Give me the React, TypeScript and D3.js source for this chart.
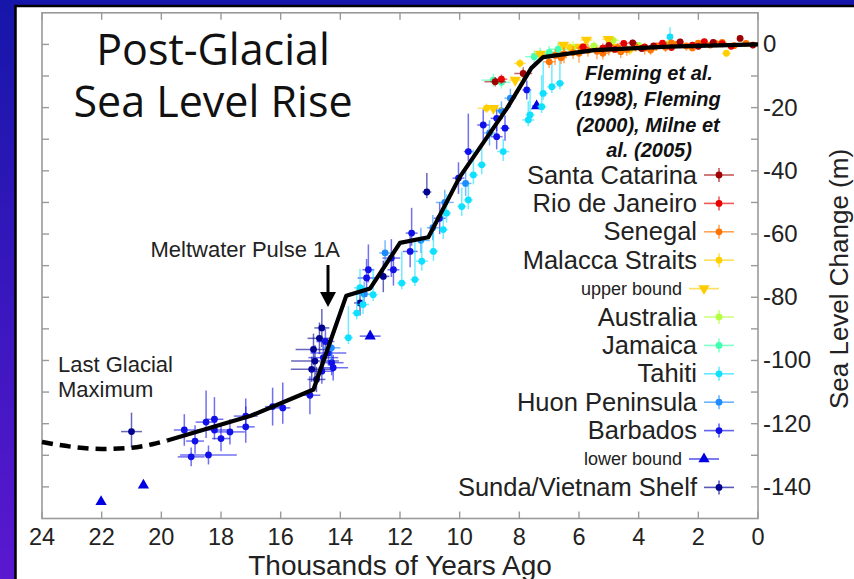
import React from "react";
import * as d3 from "d3";

// [age (kyr), sea level (m), x error (kyr), y error up (m), y error down (m)]
type Pt = number[];

const santaCatarina: Pt[] = [
  [8.81, -11.8, 0.36, 1.5, 1.5], [7.87, -9.2, 0.3, 2, 2], [5.0, -0.3, 0.15, 1, 1],
  [4.2, 0.5, 0.15, 1, 1], [3.5, -0.5, 0.15, 1, 1], [2.61, 0.8, 0.12, 1, 1],
  [1.5, 0.6, 0.12, 1, 1], [0.6, 1.9, 0.1, 1, 1], [0.17, -0.2, 0.1, 1, 1],
  [2.0, -0.6, 0.12, 1, 1], [3.9, -1.3, 0.15, 1, 1],
];
const rioDeJaneiro: Pt[] = [
  [5.86, -0.8, 0.15, 1, 1], [5.2, -1.2, 0.15, 1.5, 1.5], [4.5, 0.3, 0.15, 1, 1],
  [3.8, -0.8, 0.15, 1, 1], [3.2, 0.4, 0.15, 1, 1], [2.2, -0.2, 0.15, 1, 1],
  [1.8, 0.9, 0.12, 1, 1], [1.2, 0.2, 0.12, 1, 1], [0.9, -0.6, 0.12, 1, 1],
  [2.9, -1.0, 0.15, 1, 1], [4.8, -1.6, 0.15, 1, 1], [8.6, -11.0, 0.2, 1.5, 1.5],
];
const senegal: Pt[] = [
  [7.0, -5.5, 0.2, 2, 2], [6.8, -3.5, 0.2, 2, 3], [6.5, -3.0, 0.2, 2, 3],
  [6.2, -2.6, 0.2, 2, 2], [6.0, -2.8, 0.2, 1.5, 3], [5.7, -1.9, 0.2, 2, 2],
  [5.4, -2.2, 0.2, 1.5, 2.5], [5.0, -1.5, 0.2, 1.5, 2], [4.7, -1.0, 0.2, 1.5, 1.5],
  [4.4, -1.6, 0.2, 1.5, 2], [4.1, -0.8, 0.2, 1, 1.5], [3.8, -1.2, 0.2, 1, 2],
  [3.4, -0.5, 0.2, 1, 1.5], [3.1, -0.9, 0.2, 1, 1.5], [2.7, 0.1, 0.2, 1, 1],
  [2.4, -0.5, 0.2, 1, 1.5], [2.0, 0.4, 0.2, 1, 1], [1.6, -0.2, 0.2, 1, 1],
  [1.2, 0.6, 0.15, 1, 1], [0.8, -0.4, 0.15, 1, 1], [0.4, 0.3, 0.15, 1, 1],
  [6.6, -4.2, 0.2, 2, 2], [5.9, -1.2, 0.2, 1.5, 1.5], [5.2, -2.8, 0.2, 1.5, 2],
  [4.6, -2.3, 0.2, 1.5, 2], [3.6, -1.8, 0.2, 1, 1.5], [2.9, 0.5, 0.2, 1, 1],
  [2.2, -1.1, 0.2, 1, 1], [1.4, 0.2, 0.15, 1, 1],
];
const malacca: Pt[] = [
  [9.1, -20.2, 0.3, 1.5, 1.5], [7.98, -6.0, 0.2, 1.5, 1.5], [6.3, -1.0, 0.2, 1.5, 1.5],
  [4.3, -1.8, 0.2, 1.5, 1.5], [1.06, -2.8, 0.15, 1, 1],
];
const upperBound: Pt[] = [
  [8.87, -20.2, 0.3], [8.14, -11.3, 0.2], [7.3, -3.0, 0.2], [6.52, -0.2, 0.2],
  [5.97, -0.8, 0.2], [5.75, 1.4, 0.2], [5.02, 1.6, 0.2], [4.85, -0.8, 0.2],
];
const australia: Pt[] = [
  [6.2, -1.0, 0.2, 2, 2], [5.5, -0.5, 0.2, 1.5, 1.5], [4.85, 1.3, 0.2, 1, 1],
  [4.0, -0.3, 0.2, 1, 1], [3.0, 0.2, 0.2, 1, 1],
];
const jamaica: Pt[] = [
  [8.87, -11.3, 0.4, 2, 2], [8.6, -12.0, 0.3, 2, 2], [7.5, -3.9, 0.3, 2, 2],
  [7.3, -3.0, 0.3, 2, 2], [7.0, -2.5, 0.3, 2, 2], [6.7, -1.5, 0.3, 2, 2],
];
const tahiti: Pt[] = [
  [13.73, -92.8, 0.15, 10, 2], [13.45, -85.0, 0.15, 8, 2], [13.24, -82.3, 0.2, 6, 3],
  [13.34, -77.0, 0.2, 6, 3], [12.9, -79.2, 0.15, 8, 2], [11.94, -75.5, 0.15, 10, 2],
  [11.5, -74.4, 0.15, 12, 2], [11.27, -68.6, 0.2, 8, 3], [10.88, -65.5, 0.15, 8, 3],
  [10.55, -58.6, 0.15, 6, 3], [10.44, -53.4, 0.15, 6, 3], [9.93, -51.3, 0.15, 6, 3],
  [9.71, -49.2, 0.15, 5, 3], [9.54, -41.3, 0.15, 8, 3], [9.26, -38.1, 0.15, 6, 3],
  [8.54, -33.9, 0.2, 4, 3], [7.7, -23.9, 0.2, 6, 2], [7.64, -22.3, 0.15, 8, 2],
  [7.25, -19.7, 0.15, 10, 2], [7.2, -15.5, 0.15, 10, 2], [6.91, -13.4, 0.15, 8, 2],
  [6.64, -12.3, 0.15, 8, 2], [2.95, 2.4, 0.05, 3, 1],
];
const huon: Pt[] = [
  [14.3, -96, 0.3, 4, 4], [13.2, -79, 0.3, 4, 4], [12.5, -66, 0.2, 4, 4],
  [11.3, -62, 0.3, 4, 4], [10.9, -58, 0.2, 4, 4], [10.5, -50, 0.3, 4, 4],
  [9.8, -44, 0.2, 4, 4], [9.0, -28, 0.2, 4, 4], [8.6, -21, 0.2, 3, 3],
  [8.3, -17, 0.2, 3, 3],
];
const barbados: Pt[] = [
  [19.23, -122, 0.35, 5, 5], [18.87, -125.5, 0.3, 5, 4], [19.0, -130.5, 0.45, 3, 3],
  [18.42, -129.9, 0.95, 3, 3], [18.5, -119.5, 0.35, 10, 5], [18.22, -118.6, 0.3, 7, 4],
  [18.22, -122, 0.6, 3, 3], [18.0, -124.7, 0.3, 4, 4], [17.7, -122.6, 0.5, 4, 4],
  [17.17, -121, 0.3, 9, 5], [17.17, -117.6, 0.4, 3, 3], [16.27, -114.6, 0.25, 6, 6],
  [15.93, -115, 0.25, 8, 5], [15.02, -111, 0.35, 6, 6], [14.57, -99.1, 0.5, 5, 5],
  [14.29, -100.7, 0.4, 4, 4], [14.4, -97.6, 0.6, 4, 4], [14.24, -102.3, 0.5, 4, 4],
  [14.62, -103.4, 0.4, 4, 4], [14.5, -94, 0.3, 4, 4], [13.12, -73.9, 0.3, 6, 6],
  [13.06, -71.3, 0.2, 8, 4], [12.22, -71.3, 0.2, 5, 5], [12.29, -67.6, 0.3, 6, 6],
  [11.66, -65.5, 0.25, 5, 5], [11.61, -59.7, 0.2, 8, 4], [10.67, -55, 0.2, 5, 5],
  [10.04, -42.3, 0.2, 5, 5], [9.71, -33.9, 0.15, 12, 3], [9.21, -25.5, 0.2, 5, 5],
  [8.76, -29.2, 0.2, 4, 4], [8.76, -23.4, 0.2, 4, 4], [8.48, -26.5, 0.15, 4, 4],
  [7.75, -14.4, 0.15, 3, 3],
];
const lowerBound: Pt[] = [
  [22.02, -144.7, 0], [20.6, -139.5, 0], [13.0, -92.3, 0.35], [7.42, -19.5, 0.15],
];
const sunda: Pt[] = [
  [21.0, -122.5, 0.35, 6, 5], [14.62, -89.7, 0.25, 6, 6], [14.9, -96.5, 0.6, 5, 5],
  [14.85, -100.2, 0.8, 5, 5], [14.96, -102.8, 0.7, 4, 4], [14.7, -93, 0.4, 5, 5],
  [14.8, -106, 0.3, 4, 4], [13.34, -81.8, 0.2, 4, 4], [12.56, -73.4, 0.2, 5, 5],
  [11.1, -46.7, 0.15, 6, 2],
];

// fitted sea level curve
const curveSolid = [
  [19.8, -125.3], [17.0, -117.5], [14.9, -109.2], [13.8, -79.5], [13.0, -77.2],
  [12.0, -62.8], [11.05, -61], [10.0, -42], [8.4, -20], [7.6, -7.5], [7.2, -4],
  [5.5, -1.8], [3, -0.7], [0, 0],
];
const curveDashed = [
  [24, -125.8], [23, -127.3], [22, -128], [21, -127.6], [20.3, -126.5], [19.8, -125.3],
];

const legendItems = [
  { name: "Santa Catarina", color: "#a00000", kind: "dot", data: santaCatarina },
  { name: "Rio de Janeiro", color: "#e80000", kind: "dot", data: rioDeJaneiro },
  { name: "Senegal", color: "#ff7400", kind: "dot", data: senegal },
  { name: "Malacca Straits", color: "#ffd000", kind: "dot", data: malacca },
  { name: "upper bound", color: "#ffcc00", kind: "down", data: upperBound },
  { name: "Australia", color: "#b4ff40", kind: "dot", data: australia },
  { name: "Jamaica", color: "#40ffb0", kind: "dot", data: jamaica },
  { name: "Tahiti", color: "#10e0ff", kind: "dot", data: tahiti },
  { name: "Huon Peninsula", color: "#1e8cff", kind: "dot", data: huon },
  { name: "Barbados", color: "#1010e8", kind: "dot", data: barbados },
  { name: "lower bound", color: "#0000e0", kind: "up", data: lowerBound },
  { name: "Sunda/Vietnam Shelf", color: "#000090", kind: "dot", data: sunda },
];

const xTicks = d3.range(24, -1, -2);
const yTicks = d3.range(-140, 1, 10);
const yLabels = d3.range(-140, 1, 20);

export default function App() {
  const width = 854;
  const height = 579;
  const x = d3.scaleLinear().domain([24, 0]).range([42, 758]);
  const y = d3.scaleLinear().domain([-150, 10]).range([518.5, 12.8]);
  const axisColor = "#9a9a9a";
  const font = "'Liberation Sans', Arial, sans-serif";

  const line = d3.line<number[]>().x(d => x(d[0])).y(d => y(d[1]));
  const dashLine = d3.line<number[]>().x(d => x(d[0])).y(d => y(d[1])).curve(d3.curveMonotoneX);
  const tri = d3.symbol().type(d3.symbolTriangle).size(55)();

  const marker = (kind: string, color: string, cx: number, cy: number, key: string) => {
    if (kind === "dot") return <circle key={key} cx={cx} cy={cy} r={3.4} fill={color} />;
    return (
      <path key={key} d={tri || ""} fill={color}
        transform={`translate(${cx},${cy}) rotate(${kind === "down" ? 180 : 0})`} />
    );
  };

  const series = [...legendItems].reverse();

  return (
    <svg width={width} height={height} style={{ position: "absolute", left: 0, top: 0 }}>
      <defs>
        <linearGradient id="bg" x1="0" y1="0" x2="0" y2="1">
          <stop offset="0" stopColor="#1616aa" />
          <stop offset="1" stopColor="#5a18d0" />
        </linearGradient>
      </defs>
      <rect width={width} height={height} fill="url(#bg)" />
      <rect x={15.5} y={6} width={width} height={height} fill="white" stroke="black" strokeWidth={2.5} />

      {/* frame and ticks */}
      <rect x={x(24)} y={y(10)} width={x(0) - x(24)} height={y(-150) - y(10)}
        fill="none" stroke={axisColor} strokeWidth={1.6} />
      {xTicks.map(t => (
        <g key={`xt${t}`} stroke={axisColor} strokeWidth={1.4}>
          <line x1={x(t)} x2={x(t)} y1={y(-150)} y2={y(-150) - 7} />
          <line x1={x(t)} x2={x(t)} y1={y(10)} y2={y(10) + 7} />
        </g>
      ))}
      {yTicks.map(t => (
        <g key={`yt${t}`} stroke={axisColor} strokeWidth={1.4}>
          <line x1={x(24)} x2={x(24) + 7} y1={y(t)} y2={y(t)} />
          <line x1={x(0)} x2={x(0) - 7} y1={y(t)} y2={y(t)} />
        </g>
      ))}
      {xTicks.map(t => (
        <text key={`xl${t}`} x={x(t)} y={544.5} textAnchor="middle" fontFamily={font} fontSize={23.5} fill="#222">{t}</text>
      ))}
      {yLabels.map(t => (
        <text key={`yl${t}`} x={763} y={y(t) + 8} fontFamily={font} fontSize={24} fill="#222">{t}</text>
      ))}
      <text x={400} y={575} textAnchor="middle" fontFamily={font} fontSize={28} fill="#222">Thousands of Years Ago</text>
      <text transform={`translate(848,279) rotate(-90)`} textAnchor="middle" fontFamily={font} fontSize={26} fill="#222">Sea Level Change (m)</text>

      {/* data */}
      {series.map(s => (
        <g key={s.name}>
          {s.data.map((p, i) => {
            const [a, v, xe = 0, yu = 0, yd = 0] = p;
            return (
              <g key={i} stroke={s.color} strokeWidth={1.5} strokeOpacity={0.6}>
                {xe > 0 && <line x1={x(a + xe)} x2={x(a - xe)} y1={y(v)} y2={y(v)} />}
                {(yu > 0 || yd > 0) && <line x1={x(a)} x2={x(a)} y1={y(v + yu)} y2={y(v - yd)} />}
              </g>
            );
          })}
          {s.data.map((p, i) => marker(s.kind, s.color, x(p[0]), y(p[1]), `m${i}`))}
        </g>
      ))}

      <path d={line(curveSolid) || ""} fill="none" stroke="black" strokeWidth={4.2} strokeLinejoin="round" />
      <path d={dashLine(curveDashed) || ""} fill="none" stroke="black" strokeWidth={4.5} strokeDasharray="11,7" />

      {/* title and annotations */}
      <text x={213} y={65} textAnchor="middle" fontFamily="'Open Sans', sans-serif" fontSize={43} fill="#111">Post-Glacial</text>
      <text x={213} y={117} textAnchor="middle" fontFamily="'Open Sans', sans-serif" fontSize={43} fill="#111">Sea Level Rise</text>
      <text x={340} y={257} textAnchor="end" fontFamily={font} fontSize={22} fill="#222">Meltwater Pulse 1A</text>
      <line x1={328} x2={328} y1={265} y2={294} stroke="black" strokeWidth={3} />
      <path d="M320,292 L336,292 L328,307 Z" fill="black" />
      <text fontFamily={font} fontSize={22} fill="#222">
        <tspan x={58} y={372}>Last Glacial</tspan>
        <tspan x={58} y={397}>Maximum</tspan>
      </text>
      <text textAnchor="middle" fontFamily={font} fontSize={20} fontWeight="bold" fontStyle="italic" fill="#111">
        <tspan x={649} y={80}>Fleming et al.</tspan>
        <tspan x={648} y={106}>(1998), Fleming</tspan>
        <tspan x={648} y={132}>(2000), Milne et</tspan>
        <tspan x={649} y={157}>al. (2005)</tspan>
      </text>

      {/* legend */}
      {legendItems.map((it, i) => {
        const cy = 175 + i * 28.4;
        const small = it.kind !== "dot";
        const tx = small ? 682 : 697;
        const mx = small ? 704 : 719;
        return (
          <g key={it.name}>
            <text x={tx} y={cy + (small ? 6 : 8.5)} textAnchor="end" fontFamily={font}
              fontSize={small ? 18 : 25.5} fill="#222">{it.name}</text>
            <g stroke={it.color} strokeWidth={1.6} strokeOpacity={0.65}>
              <line x1={mx - 15} x2={mx + 15} y1={cy} y2={cy} />
              {!small && <line x1={mx} x2={mx} y1={cy - 7} y2={cy + 7} />}
            </g>
            {marker(it.kind, it.color, mx, cy, "lm")}
          </g>
        );
      })}
    </svg>
  );
}
